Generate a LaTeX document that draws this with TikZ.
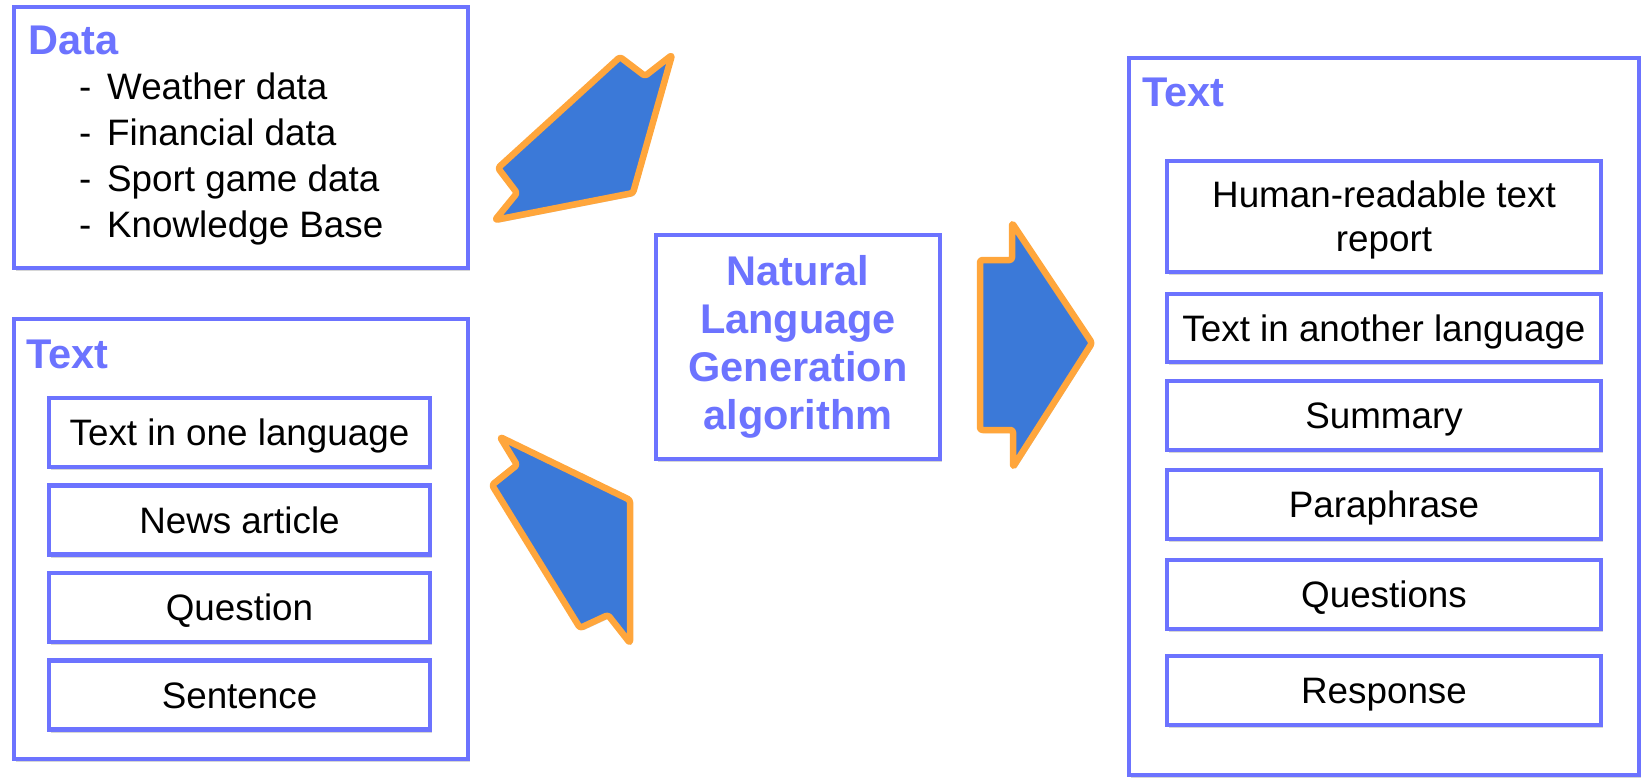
\documentclass[tikz,border=0pt]{standalone}
\usepackage{fontspec}
\setmainfont{Liberation Sans}
\usetikzlibrary{shadows}

\definecolor{boxblue}{RGB}{108,115,255}
\definecolor{arrowfill}{RGB}{59,121,216}
\definecolor{arroworange}{RGB}{255,166,60}

\newcommand\itemfont{\fontsize{36.8}{44}\selectfont}
\newcommand\titlefont{\fontsize{41.5}{48}\selectfont\bfseries}

\tikzset{
  softshadow/.style={drop shadow={shadow xshift=2pt, shadow yshift=-3pt, opacity=0.16, fill=black}},
  bigbox/.style={draw=boxblue, line width=4.8pt, fill=white, rectangle, inner sep=0pt, softshadow},
  itembox/.style={draw=boxblue, line width=4.8pt, fill=white, rectangle, inner sep=0pt,
    minimum width=#1, minimum height=69, font=\itemfont, text height=26.3pt, text depth=0pt, softshadow},
  title/.style={anchor=base west, inner sep=0pt, font=\titlefont, text=boxblue},
  listtext/.style={anchor=base west, inner sep=0pt, font=\itemfont},
  fatarrow/.style={fill=arrowfill, draw=arroworange, line width=6.5pt, line join=round,
    rounded corners=2.5pt, softshadow},
}

\begin{document}
\begin{tikzpicture}[x=1pt, y=-1pt]
\useasboundingbox (0,0) rectangle (1641,778);

% ---- input: data ----
\node[bigbox, minimum width=454, minimum height=261] (data) at (241,137.5) {};
\node[title] (datatitle) at (28,55) {Data};
\foreach \y/\t [count=\i] in {100/Weather data, 146/Financial data, 192/Sport game data, 237/Knowledge Base} {
  \node[listtext] (dash\i) at (79,\y) {-};
  \node[listtext] (item\i) at (107,\y) {\t};
}

% ---- input: text ----
\node[bigbox, minimum width=454, minimum height=440] (intext) at (241,539) {};
\node[title] (intexttitle) at (26,368) {Text};
\node[itembox=381] (onelang)  at (239.5,432.5) {Text in one language};
\node[itembox=381] (news)     at (239.5,520)   {News article};
\node[itembox=381] (question) at (239.5,607.5) {Question};
\node[itembox=381] (sentence) at (239.5,695)   {Sentence};

% ---- generator ----
\node[bigbox, minimum width=284, minimum height=224, align=center,
      font=\titlefont, text=boxblue] (nlg) at (798,347)
  {Natural\\Language\\Generation\\algorithm};

% ---- output: text ----
\node[bigbox, minimum width=510, minimum height=717] (outtext) at (1384,416.5) {};
\node[title] (outtexttitle) at (1142,107) {Text};
\node[itembox=434, minimum height=111, text height=, text depth=, align=center] (report) at (1384,216.5)
  {Human-readable text\\\raisebox{0pt}[\height][0pt]{report}};
\node[itembox=434, minimum height=68] (another) at (1384,328) {Text in another language};
\node[itembox=434] (summary)    at (1384,415.5) {Summary};
\node[itembox=434] (paraphrase) at (1384,504.5) {Paraphrase};
\node[itembox=434] (questions)  at (1384,594.5) {Questions};
\node[itembox=434] (response)   at (1384,690.5) {Response};

% ---- block arrows ----
\draw[fatarrow] (620,57) -- (645,76) -- (672,55) -- (633,193) -- (495,220) -- (517,193) -- (498,168) -- cycle;
\draw[fatarrow] (500,437) -- (630,500) -- (630,643) -- (608,615) -- (580,628) -- (492,485) -- (517,465) -- cycle;
\draw[fatarrow] (980,260) -- (1012,260) -- (1012,223) -- (1092,343) -- (1013,467) -- (1013,430) -- (980,430) -- cycle;
\end{tikzpicture}
\end{document}
